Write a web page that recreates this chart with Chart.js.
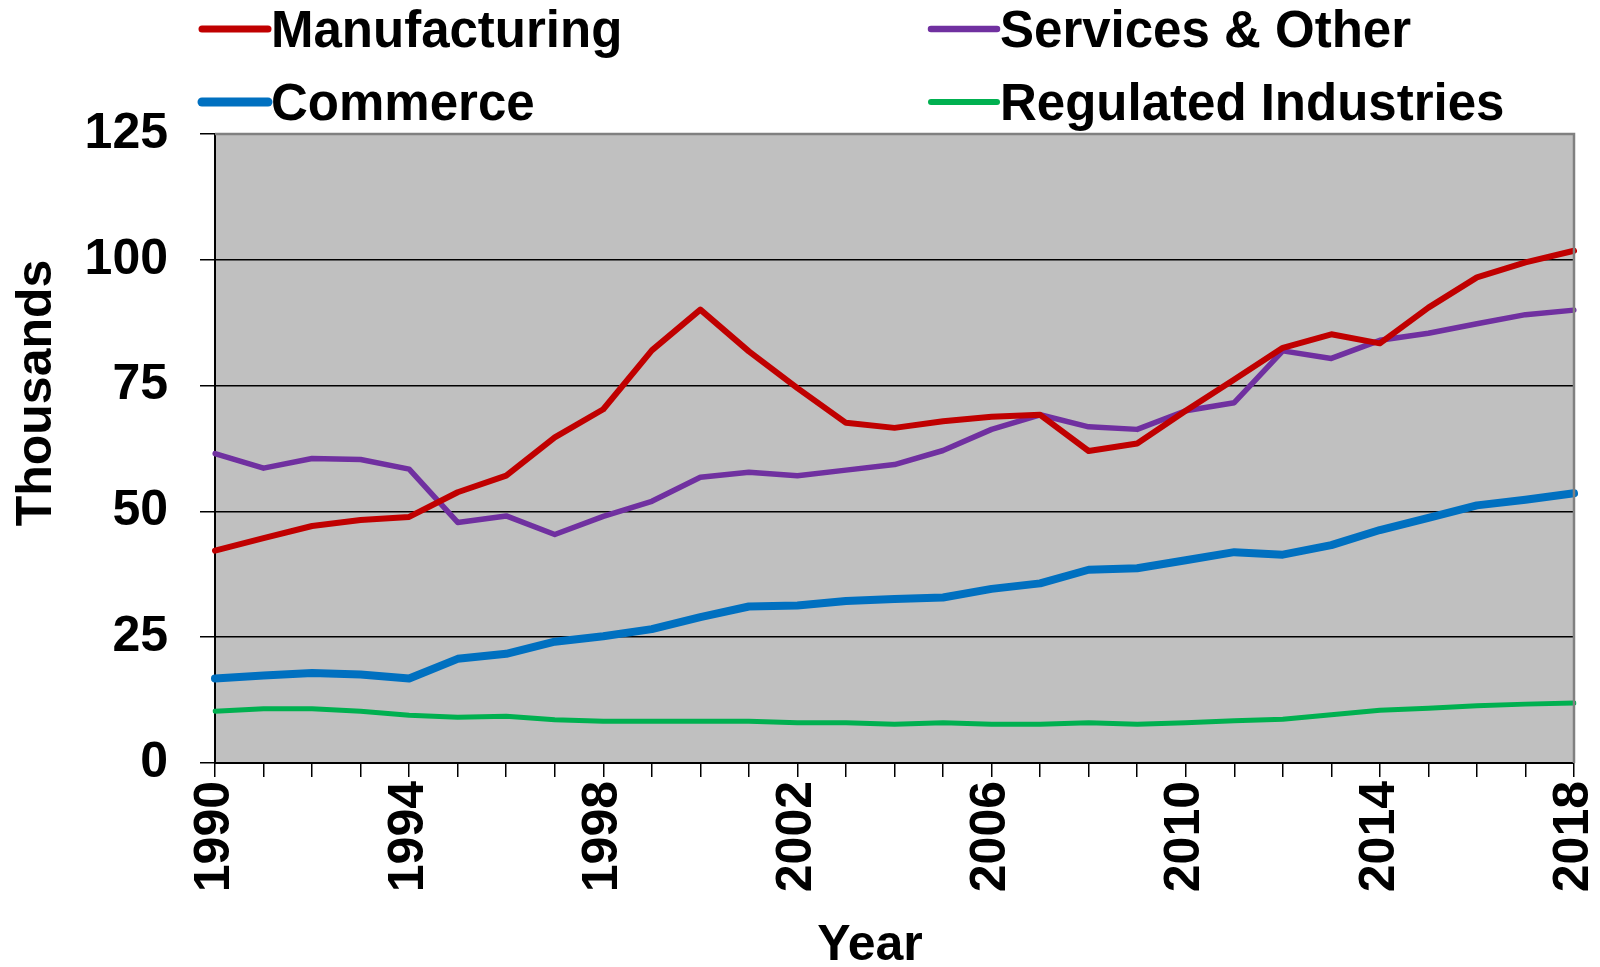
<!DOCTYPE html>
<html>
<head>
<meta charset="utf-8">
<script src="https://cdn.jsdelivr.net/npm/chart.js@4.4.1/dist/chart.umd.min.js"></script>
<style>
  body { margin: 0; background: #fff; }
  #wrap { width: 1600px; height: 967px; position: relative; }
</style>
</head>
<body>
<div id="wrap"><canvas id="employment-chart"></canvas></div>
<script>
// values, thousands
const years = [];
for (let y = 1990; y <= 2018; y++) years.push(String(y));

const manufacturing = [42.2, 44.7, 47.1, 48.3, 48.9, 53.8, 57.1, 64.7, 70.3, 82.0,
    90.1, 81.8, 74.5, 67.6, 66.6, 67.9, 68.8, 69.2, 62.0, 63.5,
    70.0, 76.2, 82.5, 85.2, 83.4, 90.5, 96.5, 99.5, 101.8];
const commerce = [16.8, 17.4, 17.9, 17.6, 16.8, 20.7, 21.7, 24.1, 25.2, 26.6,
    29.0, 31.1, 31.3, 32.2, 32.6, 32.9, 34.6, 35.7, 38.4, 38.7,
    40.3, 41.9, 41.4, 43.3, 46.3, 48.7, 51.2, 52.3, 53.6];
const services = [61.5, 58.6, 60.5, 60.3, 58.4, 47.8, 49.1, 45.4, 49.0, 52.0,
    56.8, 57.8, 57.1, 58.2, 59.3, 62.1, 66.3, 69.2, 66.8, 66.3,
    70.0, 71.6, 81.9, 80.4, 84.0, 85.4, 87.3, 89.1, 90.0];
const regulated = [10.3, 10.8, 10.8, 10.3, 9.5, 9.1, 9.3, 8.6, 8.3, 8.3,
    8.3, 8.3, 8.0, 8.0, 7.7, 8.0, 7.7, 7.7, 8.0, 7.7,
    8.0, 8.4, 8.7, 9.6, 10.5, 10.9, 11.4, 11.7, 11.9];

const FONT = "'Liberation Sans', Arial, sans-serif";

// plot background, frame, legend and axis titles
const decor = {
    id: 'decor',
    beforeDraw(chart) {
        const { ctx, chartArea: a } = chart;
        ctx.save();
        ctx.fillStyle = '#c0c0c0';
        ctx.fillRect(a.left, a.top, a.right - a.left, a.bottom - a.top);
        ctx.restore();
    },
    afterDraw(chart) {
        const { ctx, chartArea: a } = chart;
        ctx.save();
        ctx.strokeStyle = '#808080';
        ctx.lineWidth = 2.5;
        ctx.beginPath();
        ctx.moveTo(a.left, a.top);
        ctx.lineTo(a.right, a.top);
        ctx.lineTo(a.right, a.bottom);
        ctx.stroke();

        // legend, two columns
        const slots = [[202, 29], [931, 29], [202, 102], [931, 102]];
        const order = [0, 2, 1, 3];
        ctx.font = 'bold 51px ' + FONT;
        ctx.textBaseline = 'alphabetic';
        ctx.textAlign = 'left';
        order.forEach((di, i) => {
            const ds = chart.data.datasets[di];
            const [x, y] = slots[i];
            ctx.strokeStyle = ds.borderColor;
            ctx.lineWidth = ds.borderWidth + 1;
            ctx.lineCap = 'round';
            ctx.beginPath();
            ctx.moveTo(x, y);
            ctx.lineTo(x + 66, y);
            ctx.stroke();
            ctx.fillStyle = '#000';
            ctx.fillText(ds.label, x + 69, y + 18);
        });

        // axis titles
        ctx.font = 'bold 50px ' + FONT;
        ctx.textAlign = 'center';
        ctx.textBaseline = 'middle';
        ctx.fillText('Year', 870, 946);
        ctx.translate(37, 393);
        ctx.rotate(-Math.PI / 2);
        ctx.fillText('Thousands', 0, 0);
        ctx.restore();
    }
};

const config = {
    type: 'line',
    data: {
        labels: years,
        datasets: [
            { label: 'Manufacturing', data: manufacturing, borderColor: '#c00000', borderWidth: 6 },
            { label: 'Commerce', data: commerce, borderColor: '#0070c0', borderWidth: 8 },
            { label: 'Services & Other', data: services, borderColor: '#7030a0', borderWidth: 5.5 },
            { label: 'Regulated Industries', data: regulated, borderColor: '#00b050', borderWidth: 5 }
        ]
    },
    options: {
        responsive: true,
        maintainAspectRatio: false,
        animation: false,
        layout: { padding: { top: 134, right: 26, left: 0, bottom: 0 } },
        elements: {
            point: { radius: 0 },
            line: { tension: 0, borderJoinStyle: 'round', borderCapStyle: 'round' }
        },
        plugins: {
            legend: { display: false },
            tooltip: { enabled: false }
        },
        scales: {
            x: {
                afterFit(scale) {
                    scale.height = 204;
                    scale.paddingLeft = 0;
                    scale.paddingRight = 0;
                },
                grid: { drawOnChartArea: false, drawTicks: true, tickLength: 14, color: '#000', lineWidth: 1.5 },
                border: { display: true, color: '#000', width: 2 },
                ticks: {
                    autoSkip: false,
                    minRotation: 90,
                    maxRotation: 90,
                    padding: 4,
                    color: '#000',
                    font: { family: FONT, size: 50, weight: 'bold', lineHeight: 1 },
                    callback(value, index) {
                        return index % 4 === 0 ? this.getLabelForValue(value) : '';
                    }
                }
            },
            y: {
                min: 0,
                max: 125,
                afterFit(scale) { scale.width = 215; },
                grid: { color: '#000', lineWidth: 1.5, tickLength: 15 },
                border: { display: true, color: '#000', width: 2 },
                ticks: {
                    stepSize: 25,
                    padding: 32,
                    color: '#000',
                    font: { family: FONT, size: 50, weight: 'bold' }
                }
            }
        }
    },
    plugins: [decor]
};

const chart_ctx = document.getElementById('employment-chart').getContext('2d');
const employment_chart = new Chart(chart_ctx, config);
</script>
</body>
</html>
